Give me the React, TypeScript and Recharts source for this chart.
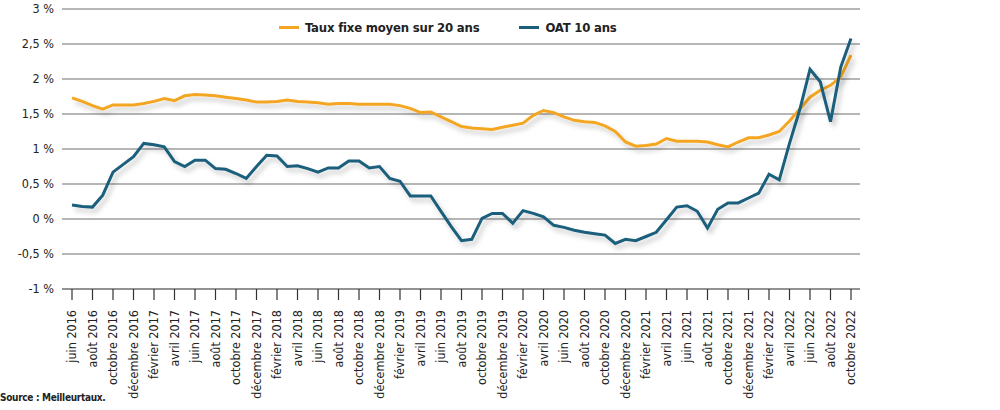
import { CartesianGrid, Line, LineChart, XAxis, YAxis } from "recharts";

const MOIS = [
  "janvier", "février", "mars", "avril", "mai", "juin",
  "juillet", "août", "septembre", "octobre", "novembre", "décembre",
];

// juin 2016 -> octobre 2022, un point par mois
const CATEGORIES = Array.from({ length: 77 }, (_, i) => {
  const m = 5 + i;
  return `${MOIS[m % 12]} ${2016 + Math.floor(m / 12)}`;
});

const TAUX_FIXE_20_ANS = [
  1.73, 1.68, 1.62, 1.57, 1.63, 1.63, 1.63, 1.65, 1.68, 1.72,
  1.69, 1.76, 1.78, 1.77, 1.76, 1.74, 1.72, 1.70, 1.67, 1.67,
  1.68, 1.70, 1.68, 1.67, 1.66, 1.64, 1.65, 1.65, 1.64, 1.64,
  1.64, 1.64, 1.62, 1.58, 1.52, 1.53, 1.46, 1.39, 1.32, 1.30,
  1.29, 1.28, 1.31, 1.34, 1.37, 1.48, 1.55, 1.52, 1.46, 1.41,
  1.39, 1.38, 1.33, 1.25, 1.10, 1.04, 1.05, 1.07, 1.15, 1.11,
  1.11, 1.11, 1.10, 1.06, 1.03, 1.10, 1.16, 1.16, 1.20, 1.25,
  1.40, 1.57, 1.74, 1.84, 1.91, 2.03, 2.34,
];

const OAT_10_ANS = [
  0.20, 0.18, 0.17, 0.34, 0.67, 0.78, 0.89, 1.08, 1.06, 1.03,
  0.82, 0.75, 0.84, 0.84, 0.72, 0.71, 0.65, 0.58, 0.75, 0.91,
  0.90, 0.75, 0.76, 0.72, 0.67, 0.73, 0.73, 0.83, 0.83, 0.73,
  0.75, 0.58, 0.54, 0.33, 0.33, 0.33, 0.11, -0.11, -0.31, -0.29,
  0.01, 0.08, 0.08, -0.06, 0.12, 0.08, 0.03, -0.09, -0.12, -0.16,
  -0.19, -0.21, -0.23, -0.35, -0.29, -0.31, -0.25, -0.19, -0.01, 0.17,
  0.19, 0.11, -0.13, 0.14, 0.23, 0.23, 0.30, 0.37, 0.64, 0.56,
  1.08, 1.56, 2.14, 1.96, 1.39, 2.17, 2.58,
];

const Y_TICKS = [-1, -0.5, 0, 0.5, 1, 1.5, 2, 2.5, 3];

const ORANGE = "#F4A623";
const BLEU = "#1A5E7C";
const FONT = "'Liberation Sans Narrow', 'DejaVu Sans Condensed', 'Noto Sans', sans-serif";

const data = CATEGORIES.map((mois, i) => ({
  mois,
  taux: TAUX_FIXE_20_ANS[i],
  oat: OAT_10_ANS[i],
}));

const formatPct = (v: number) => `${String(v).replace(".", ",")} %`;

const XTick = ({ x, y, payload }: any) => (
  <g transform={`translate(${x},${y})`}>
    <text
      transform="rotate(-90)"
      x={-8}
      y={0}
      dy="0.35em"
      textAnchor="end"
      fontSize={12.5}
      fill="#222"
      fontFamily={FONT}
    >
      {payload.value}
    </text>
  </g>
);

function LegendItem({ color, label }: { color: string; label: string }) {
  return (
    <div style={{ display: "flex", alignItems: "center" }}>
      <span style={{ width: 20, height: 3, background: color, marginRight: 6 }} />
      <span style={{ fontWeight: 700, fontSize: 13, letterSpacing: -0.2 }}>{label}</span>
    </div>
  );
}

export default function App() {
  return (
    <div
      style={{
        position: "absolute",
        left: 0,
        top: 0,
        width: 1000,
        height: 410,
        background: "#fff",
        fontFamily: FONT,
        color: "#222",
      }}
    >
      <LineChart
        width={1000}
        height={410}
        data={data}
        margin={{ top: 9, right: 140, left: 0, bottom: 0 }}
      >
        <defs>
          <filter id="ombre" x="-5%" y="-20%" width="110%" height="150%">
            <feDropShadow dx="3" dy="4" stdDeviation="2.5" floodColor="#000" floodOpacity="0.22" />
          </filter>
        </defs>
        <CartesianGrid vertical={false} stroke="#6f6f6f" strokeWidth={1.2} />
        <XAxis
          dataKey="mois"
          interval={1}
          height={121}
          padding={{ left: 10, right: 9 }}
          tickSize={11}
          tickLine={{ stroke: "#333", strokeWidth: 1.2 }}
          axisLine={{ stroke: "#6f6f6f", strokeWidth: 1.2 }}
          tick={<XTick />}
        />
        <YAxis
          width={62}
          domain={[-1, 3]}
          ticks={Y_TICKS}
          axisLine={false}
          tickLine={false}
          tickFormatter={formatPct}
          tick={{ fontSize: 12.5, fill: "#222", fontFamily: FONT }}
        />
        <Line
          dataKey="taux"
          stroke={ORANGE}
          strokeWidth={3}
          dot={false}
          filter="url(#ombre)"
          isAnimationActive={false}
        />
        <Line
          dataKey="oat"
          stroke={BLEU}
          strokeWidth={3}
          dot={false}
          filter="url(#ombre)"
          isAnimationActive={false}
        />
      </LineChart>
      <div
        style={{
          position: "absolute",
          top: 20,
          left: 279,
          display: "flex",
          gap: 40,
        }}
      >
        <LegendItem color={ORANGE} label="Taux fixe moyen sur 20 ans" />
        <LegendItem color={BLEU} label="OAT 10 ans" />
      </div>
      <div
        style={{
          position: "absolute",
          left: 0,
          top: 392,
          fontSize: 10,
          fontWeight: 700,
          letterSpacing: -0.3,
        }}
      >
        Source : Meilleurtaux.
      </div>
    </div>
  );
}
